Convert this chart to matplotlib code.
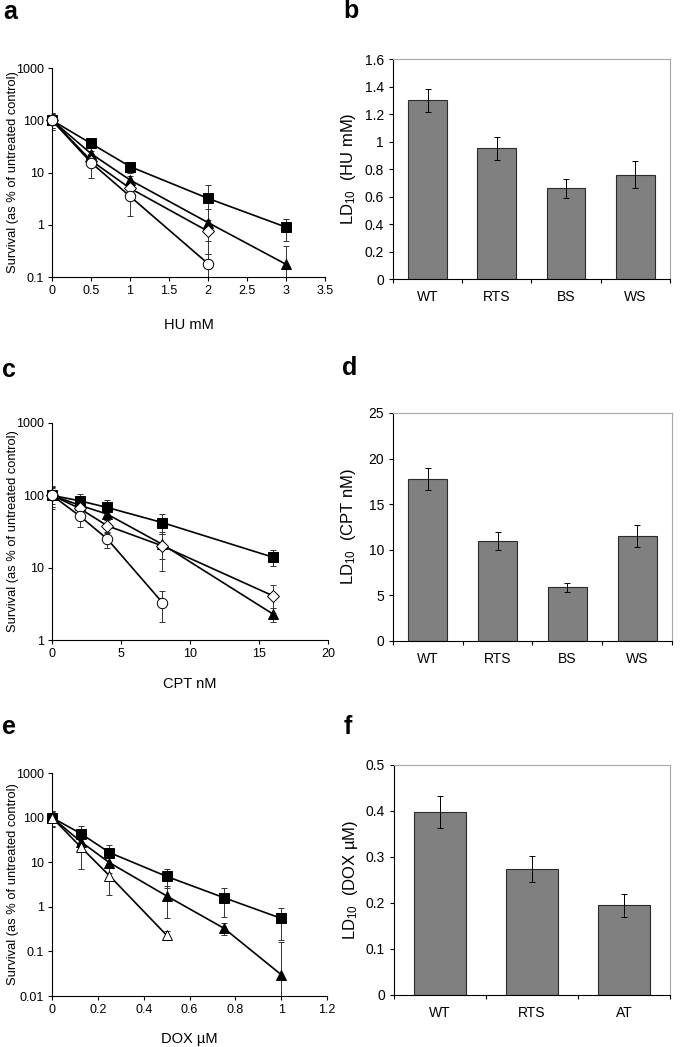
import numpy as np
import matplotlib
matplotlib.use('Agg')
import matplotlib.pyplot as plt
from matplotlib.ticker import FixedLocator, FuncFormatter, NullLocator

plt.rcParams['font.family'] = ['Liberation Sans', 'DejaVu Sans']
plt.rcParams['mathtext.default'] = 'regular'

# Panel a: HU survival
hu_dose = [0, 0.5, 1, 2, 3]
hu_wt = [100, 36, 13, 3.2, 0.9]
hu_wt_err = [36, 4, 3, 2.7, 0.4]
hu_rts = [100, 23, 7.2, 1.1, 0.175]
hu_rts_err = [30, 3, 1.5, 0.9, 0.22]
hu_dose_short = [0, 0.5, 1, 2]
hu_ws = [100, 17, 5, 0.75]
hu_ws_err = [30, 3, 1.2, 0.48]
hu_bs = [100, 15.5, 3.5, 0.18]
hu_bs_err = [36, 7.5, 2.0, 0.1]

# Panel c: CPT survival
cpt_dose = [0, 2, 4, 8, 16]
cpt_wt = [100, 84, 68, 42, 14]
cpt_wt_err = [30, 20, 18, 13, 3.5]
cpt_rts = [100, 73, 55, 21, 2.3]
cpt_rts_err = [25, 12, 10, 8, 0.5]
cpt_ws = [100, 66, 38, 20, 4.1]
cpt_ws_err = [30, 10, 8, 11, 1.7]
cpt_dose_short = [0, 2, 4, 8]
cpt_bs = [100, 52, 25, 3.3]
cpt_bs_err = [35, 15, 6, 1.5]

# Panel e: DOX survival
dox_dose = [0, 0.125, 0.25, 0.5, 0.75, 1]
dox_wt = [100, 44, 16.5, 4.8, 1.6, 0.55]
dox_wt_err = [40, 22, 7.5, 2.1, 1.0, 0.37]
dox_rts = [100, 29, 9.8, 1.75, 0.33, 0.03]
dox_rts_err = [35, 10, 4, 1.2, 0.1, 0.13]
dox_dose_short = [0, 0.125, 0.25, 0.5]
dox_at = [100, 22, 5, 0.23]
dox_at_err = [40, 15, 3.2, 0.05]

# LD10 bar panels
ld_hu_labels = ['WT', 'RTS', 'BS', 'WS']
ld_hu = [1.30, 0.95, 0.66, 0.76]
ld_hu_err = [0.085, 0.085, 0.07, 0.1]
ld_cpt_labels = ['WT', 'RTS', 'BS', 'WS']
ld_cpt = [17.8, 11.0, 5.9, 11.5]
ld_cpt_err = [1.2, 1.0, 0.5, 1.2]
ld_dox_labels = ['WT', 'RTS', 'AT']
ld_dox = [0.397, 0.273, 0.195]
ld_dox_err = [0.035, 0.028, 0.025]

fmt_g = FuncFormatter(lambda v, p: '%g' % v)


def survival_panel(ax, series, xticks, yticks, xlabel, xlabel_y):
    for x, y, err, marker, face, ms in series:
        ax.errorbar(x, y, yerr=err, fmt='none', ecolor='#333333',
                    elinewidth=0.7, capsize=2.5, capthick=0.7, zorder=2)
        ax.plot(x, y, color='black', lw=1.2, marker=marker, ms=ms,
                mfc=face, mec='black', mew=0.7, zorder=3, clip_on=False)
    ax.set_yscale('log')
    ax.set_xlim(xticks[0], xticks[-1])
    ax.set_ylim(yticks[0], yticks[-1])
    ax.xaxis.set_major_locator(FixedLocator(xticks))
    ax.yaxis.set_major_locator(FixedLocator(yticks))
    ax.yaxis.set_minor_locator(NullLocator())
    ax.xaxis.set_major_formatter(fmt_g)
    ax.yaxis.set_major_formatter(fmt_g)
    for s in ['top', 'right']:
        ax.spines[s].set_visible(False)
    for s in ['left', 'bottom']:
        ax.spines[s].set_linewidth(0.8)
    ax.tick_params(direction='out', length=3, width=0.8, labelsize=9, pad=3)
    ax.set_xlabel(xlabel, fontsize=10.5)
    ax.xaxis.set_label_coords(0.5, xlabel_y)
    ax.set_ylabel('Survival (as % of untreated control)', fontsize=9.3)
    ax.yaxis.set_label_coords(-0.12, 0.5)


def bar_panel(ax, labels, vals, errs, ymax, ystep, ylabel):
    pos = np.arange(len(labels))
    ax.bar(pos, vals, width=0.56, color='#808080', edgecolor='#2b2b2b',
           linewidth=0.8, zorder=2)
    ax.errorbar(pos, vals, yerr=errs, fmt='none', ecolor='black',
                elinewidth=0.7, capsize=2.5, capthick=0.7, zorder=3)
    ax.set_xlim(-0.5, len(labels) - 0.5)
    ax.set_ylim(0, ymax)
    ax.set_xticks(pos)
    ax.set_xticklabels(labels)
    ax.set_xticks(np.arange(len(labels) + 1) - 0.5, minor=True)
    ax.tick_params(axis='x', which='major', length=0, labelsize=10, pad=8)
    ax.tick_params(axis='x', which='minor', direction='out', length=3, width=0.8)
    ax.yaxis.set_major_locator(FixedLocator(np.arange(0, ymax + ystep / 2, ystep)))
    ax.yaxis.set_major_formatter(FuncFormatter(lambda v, p: '%g' % round(v, 3)))
    ax.tick_params(axis='y', direction='out', length=3, width=0.8, labelsize=10)
    for s in ['top', 'right']:
        ax.spines[s].set_color('#a8a8a8')
        ax.spines[s].set_linewidth(0.8)
    for s in ['left', 'bottom']:
        ax.spines[s].set_linewidth(0.8)
    ax.set_ylabel(ylabel, fontsize=12)
    ax.yaxis.set_label_coords(-0.125, 0.5)


fig = plt.figure(figsize=(6.81, 10.47), dpi=100)

ax_a = fig.add_axes([0.0764, 0.7354, 0.401, 0.1996])
survival_panel(ax_a, [
    (hu_dose, hu_wt, hu_wt_err, 's', 'black', 6.5),
    (hu_dose, hu_rts, hu_rts_err, '^', 'black', 7),
    (hu_dose_short, hu_ws, hu_ws_err, 'D', 'white', 6),
    (hu_dose_short, hu_bs, hu_bs_err, 'o', 'white', 7.5),
], [0, 0.5, 1, 1.5, 2, 2.5, 3, 3.5], [0.1, 1, 10, 100, 1000], 'HU mM', -0.196)

ax_c = fig.add_axes([0.0764, 0.3887, 0.405, 0.2073])
survival_panel(ax_c, [
    (cpt_dose, cpt_wt, cpt_wt_err, 's', 'black', 6.5),
    (cpt_dose, cpt_rts, cpt_rts_err, '^', 'black', 7),
    (cpt_dose, cpt_ws, cpt_ws_err, 'D', 'white', 6),
    (cpt_dose_short, cpt_bs, cpt_bs_err, 'o', 'white', 7.5),
], [0, 5, 10, 15, 20], [1, 10, 100, 1000], 'CPT nM', -0.17)

ax_e = fig.add_axes([0.0764, 0.0487, 0.404, 0.213])
survival_panel(ax_e, [
    (dox_dose, dox_wt, dox_wt_err, 's', 'black', 6.5),
    (dox_dose, dox_rts, dox_rts_err, '^', 'black', 7.5),
    (dox_dose_short, dox_at, dox_at_err, '^', 'white', 7.5),
], [0, 0.2, 0.4, 0.6, 0.8, 1, 1.2], [0.01, 0.1, 1, 10, 100, 1000], 'DOX µM', -0.163)

ax_b = fig.add_axes([0.577, 0.7335, 0.4068, 0.2101])
bar_panel(ax_b, ld_hu_labels, ld_hu, ld_hu_err, 1.6, 0.2, 'LD$_{10}$  (HU mM)')

ax_d = fig.add_axes([0.577, 0.3878, 0.4097, 0.2178])
bar_panel(ax_d, ld_cpt_labels, ld_cpt, ld_cpt_err, 25, 5, 'LD$_{10}$  (CPT nM)')

ax_f = fig.add_axes([0.5786, 0.0497, 0.4053, 0.2197])
bar_panel(ax_f, ld_dox_labels, ld_dox, ld_dox_err, 0.5, 0.1, 'LD$_{10}$  (DOX µM)')

for letter, x, y in [('a', 10, 12), ('b', 351, 11), ('c', 9, 370),
                     ('d', 350, 368), ('e', 9, 727), ('f', 348, 727)]:
    fig.text(x / 681, 1 - y / 1047, letter, fontsize=18, fontweight='bold',
             ha='center', va='center')

fig.savefig('out.png', dpi=100)
